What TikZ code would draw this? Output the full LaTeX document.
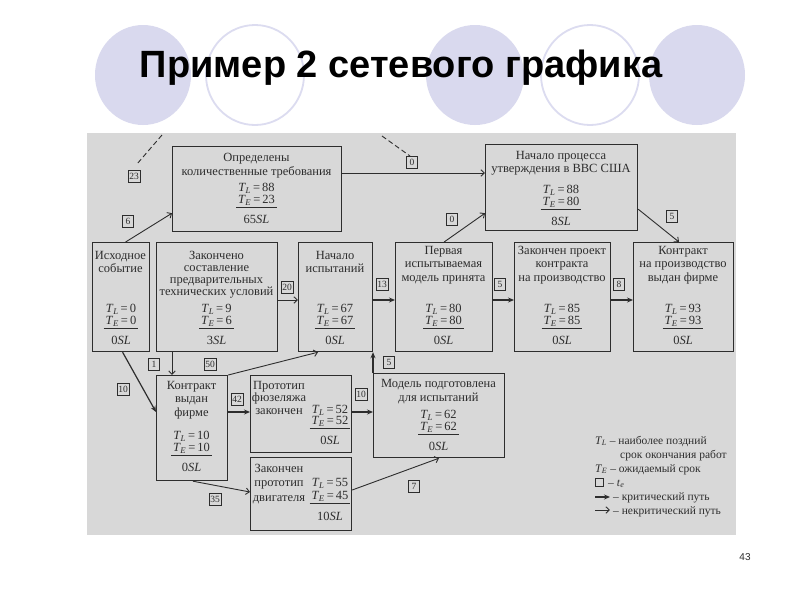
\documentclass[tikz,border=0pt]{standalone}
\usepackage{fontspec}
\setmainfont{Liberation Serif}
\newfontfamily\sansf{Liberation Sans}
\usetikzlibrary{arrows.meta,calc}
\definecolor{scan}{RGB}{216,216,216}
\definecolor{ink}{RGB}{45,45,45}
\definecolor{lav}{RGB}{217,217,238}
\definecolor{lavline}{RGB}{220,220,240}
\newcommand\TL{\textit{T}\kern-0.3pt\textsubscript{\textit{L}}}
\newcommand\TE{\textit{T}\kern-0.3pt\textsubscript{\textit{E}}}
\newcommand\vals[3]{\TL\,=\,#1\\[-1pt]\underline{\kern2pt\TE\,=\,#2\kern2pt}\\[7pt]#3\textit{SL}}
\newcommand\mkbox[5]{\node[box, minimum width=#4pt, minimum height=#5pt] (#1) at (#2,#3) {};}
\tikzset{
  box/.style={draw=ink, line width=1.2pt, inner sep=0pt, anchor=north west},
  btxt/.style={font=\fontsize{12.5}{13}\selectfont, align=center, inner sep=0pt, text=ink},
  vtxt/.style={font=\fontsize{12.5}{13}\selectfont, align=center, inner sep=0pt, text=ink, anchor=south},
  lab/.style={draw=ink, line width=0.8pt, inner sep=1.2pt, minimum height=12pt, minimum width=11pt, font=\fontsize{9.5}{9.5}\selectfont, text=ink},
  crit/.style={draw=ink, line width=1.2pt, -{Stealth[length=6pt,width=5pt]}},
  ncrit/.style={draw=ink, line width=0.9pt, -{Straight Barb[length=3.5pt,width=6.5pt]}},
  lgtxt/.style={font=\fontsize{11.5}{12}\selectfont, inner sep=0pt, text=ink, anchor=base west}
}
\begin{document}
\begin{tikzpicture}[x=1pt,y=-1pt]
\useasboundingbox (0,0) rectangle (800,600);
\fill[white] (0,0) rectangle (800,600);
% decorative circles
\fill[lav] (143,75) ellipse [x radius=48pt, y radius=50pt];
\fill[lav] (475,75) ellipse [x radius=49pt, y radius=50pt];
\fill[lav] (697,75) ellipse [x radius=48pt, y radius=50pt];
\draw[lavline, line width=1.8pt, fill=white] (255,75) ellipse [x radius=49pt, y radius=50pt];
\draw[lavline, line width=1.8pt, fill=white] (590,75) ellipse [x radius=49pt, y radius=50pt];
\node[font=\sansf\bfseries\fontsize{38}{38}\selectfont] (title) at (401,68) {Пример 2 сетевого графика};
\node[font=\sansf\fontsize{10}{10}\selectfont, text=ink] (pnum) at (745,557) {43};
% scanned area
\fill[scan] (87,133) rectangle (736,535);
% boxes
\mkbox{n1}{172}{146}{169}{85}
\mkbox{n2}{485}{144}{152}{86}
\mkbox{n0}{92}{242}{57}{109}
\mkbox{n3}{156}{242}{121}{109}
\mkbox{n4}{298}{242}{74}{109}
\mkbox{n5}{395}{242}{97}{109}
\mkbox{n6}{514}{242}{96}{109}
\mkbox{n7}{633}{242}{100}{109}
\mkbox{n8}{156}{375}{71}{105}
\mkbox{n9}{250}{375}{101}{77}
\mkbox{n10}{250}{457}{101}{73}
\mkbox{n11}{373}{373}{131}{84}
% texts
\node[btxt, anchor=north, font=\fontsize{12.5}{14}\selectfont] (n1t) at (256.5,153) {Определены\\количественные требования};
\node[vtxt] (n1v) at (256.5,224) {\vals{88}{23}{65}};
\node[btxt, anchor=north, font=\fontsize{12.5}{13.5}\selectfont] (n2t) at (561,151) {Начало процесса\\утверждения в ВВС США};
\node[vtxt] (n2v) at (561,226) {\vals{88}{80}{8}};
\node[btxt, anchor=north] (n0t) at (120.5,251) {Исходное\\событие};
\node[vtxt] (n0v) at (121,345) {\vals{0}{0}{0}};
\node[btxt, anchor=north, font=\fontsize{12.5}{12}\selectfont] (n3t) at (216.5,251) {Закончено\\составление\\предварительных\\технических условий};
\node[vtxt] (n3v) at (216.5,345) {\vals{9}{6}{3}};
\node[btxt, anchor=north] (n4t) at (335,251) {Начало\\испытаний};
\node[vtxt] (n4v) at (335,345) {\vals{67}{67}{0}};
\node[btxt, anchor=north, font=\fontsize{12.5}{13.5}\selectfont] (n5t) at (443.5,246) {Первая\\испытываемая\\модель принята};
\node[vtxt] (n5v) at (443.5,345) {\vals{80}{80}{0}};
\node[btxt, anchor=north, font=\fontsize{12.5}{13.5}\selectfont] (n6t) at (562,246) {Закончен проект\\контракта\\на производство};
\node[vtxt] (n6v) at (562,345) {\vals{85}{85}{0}};
\node[btxt, anchor=north, font=\fontsize{12.5}{13.5}\selectfont] (n7t) at (683,246) {Контракт\\на производство\\выдан фирме};
\node[vtxt] (n7v) at (683,345) {\vals{93}{93}{0}};
\node[btxt, anchor=north, font=\fontsize{12.5}{13.5}\selectfont] (n8t) at (191.5,381) {Контракт\\выдан\\фирме};
\node[vtxt] (n8v) at (191.5,472) {\vals{10}{10}{0}};
\node[btxt, anchor=north, font=\fontsize{12.5}{12.5}\selectfont] (n9t) at (279,381) {Прототип\\фюзеляжа\\закончен};
\node[vtxt, font=\fontsize{12.5}{12}\selectfont] (n9v) at (330,445) {\vals{52}{52}{0}};
\node[btxt, anchor=north, font=\fontsize{12.5}{14.5}\selectfont] (n10t) at (279,464) {Закончен\\прототип\\двигателя};
\node[vtxt, font=\fontsize{12.5}{14}\selectfont] (n10v) at (330,521) {\vals{55}{45}{10}};
\node[btxt, anchor=north, font=\fontsize{12.5}{14}\selectfont] (n11t) at (438.5,379) {Модель подготовлена\\для испытаний};
\node[vtxt] (n11v) at (438.5,451) {\vals{62}{62}{0}};
% connectors
\draw[ncrit] ($(n0.north)+(4.5,0)$) -- ($(n1.south west)+(0,-19)$);
\draw[ncrit] ($(n1.north east)+(0,27)$) -- ($(n2.north west)+(0,29)$);
\draw[ncrit] (n5.north) -- ($(n2.south west)+(0,-18)$);
\draw[ncrit] ($(n2.south east)+(0,-22)$) -- ($(n7.north west)+(46,0)$);
\draw[ncrit] ($(n3.north east)+(0,58)$) -- ($(n4.north west)+(0,58)$);
\draw[crit] ($(n4.north east)+(0,58)$) -- ($(n5.north west)+(0,58)$);
\draw[crit] ($(n5.north east)+(0,58)$) -- ($(n6.north west)+(0,58)$);
\draw[crit] ($(n6.north east)+(0,58)$) -- ($(n7.north west)+(0,58)$);
\draw[ncrit] ($(n3.south west)+(16,0)$) -- ($(n8.north west)+(16,0)$);
\draw[ncrit] (n8.north east) -- ($(n4.south west)+(20,0)$);
\draw[crit] ($(n0.south)+(1.5,0)$) -- ($(n8.north west)+(0,37)$);
\draw[crit] ($(n8.north east)+(0,37)$) -- ($(n9.north west)+(0,37)$);
\draw[crit] ($(n9.north east)+(0,37)$) -- ($(n11.north west)+(0,39)$);
\draw[crit] (n11.north west) -- (n11.north west |- n4.south);
\draw[ncrit] ($(n8.south west)+(37,0)$) -- ($(n10.north west)+(0,35)$);
\draw[ncrit] ($(n10.north east)+(0,33)$) -- ($(n11.south west)+(66,0)$);
% dashed lines leaving the picture
\coordinate (d1a) at (162,135); \coordinate (d1b) at (137,164);
\coordinate (d2a) at (382,136); \coordinate (d2b) at (410,156);
\draw[ink, line width=0.9pt, dash pattern=on 5pt off 3pt] (d1a) -- (d1b);
\draw[ink, line width=0.9pt, dash pattern=on 5pt off 3pt] (d2a) -- (d2b);
% duration labels
\node[lab] (l6) at (128,221) {6};
\node[lab] (l23) at (134,176) {23};
\node[lab] (l0a) at (412,162) {0};
\node[lab] (l0b) at (452,219) {0};
\node[lab] (l5a) at (672,216) {5};
\node[lab] (l20) at (287,287) {20};
\node[lab] (l13) at (382,284) {13};
\node[lab] (l5b) at (500,284) {5};
\node[lab] (l8) at (619,284) {8};
\node[lab] (l1) at (154,364) {1};
\node[lab] (l50) at (210,364) {50};
\node[lab] (l10a) at (123,389) {10};
\node[lab] (l42) at (237,399) {42};
\node[lab] (l10b) at (361,394) {10};
\node[lab] (l5c) at (389,362) {5};
\node[lab] (l35) at (215,499) {35};
\node[lab] (l7) at (414,486) {7};
% legend
\node[lgtxt] (lg1) at (595,444) {\TL\ – наиболее поздний};
\node[lgtxt] (lg2) at (620,458) {срок окончания работ};
\node[lgtxt] (lg3) at (595,472) {\TE\ – ожидаемый срок};
\node[draw=ink, line width=0.8pt, minimum size=8pt, inner sep=0pt] (lgsq) at (599.5,482) {};
\node[lgtxt] (lg4) at (608,486) {– \textit{t}\textsubscript{\textit{e}}};
\coordinate (la1) at (595,497); \coordinate (la2) at (610,497);
\draw[crit] (la1) -- (la2);
\node[lgtxt] (lg5) at (613,500) {– критический путь};
\coordinate (lb1) at (595,510); \coordinate (lb2) at (610,510);
\draw[ncrit] (lb1) -- (lb2);
\node[lgtxt] (lg6) at (613,514) {– некритический путь};
\end{tikzpicture}
\end{document}
